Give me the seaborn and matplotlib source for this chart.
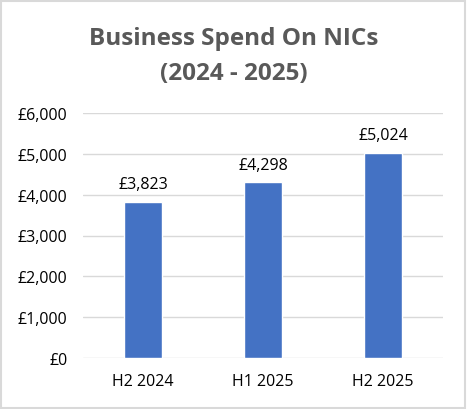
import matplotlib
matplotlib.use("Agg")
import matplotlib.pyplot as plt
import seaborn as sns
import pandas as pd
from matplotlib.patches import Rectangle

# Chart data
periods = ["H2 2024", "H1 2025", "H2 2025"]
spend = [3823, 4298, 5024]
y_ticks = [0, 1000, 2000, 3000, 4000, 5000, 6000]
title_lines = ["Business Spend On NICs", "(2024 - 2025)"]

df = pd.DataFrame({"period": periods, "spend": spend})

sns.set_style("white")
plt.rcParams["font.family"] = ["Open Sans", "DejaVu Sans"]

fig = plt.figure(figsize=(4.68, 4.10), dpi=100)
ax = fig.add_axes([83 / 468, 1 - 359 / 410, 360 / 468, 245 / 410])

sns.barplot(data=df, x="period", y="spend", color="#4472C4", width=0.32,
            saturation=1, ax=ax)

ax.set_ylim(0, 6000)
ax.set_yticks(y_ticks)
ax.set_yticklabels([f"£{v:,}" for v in y_ticks], fontsize=11.5, color="#000000")
ax.tick_params(axis="x", labelsize=11.5, colors="#000000", pad=11, length=0)
ax.tick_params(axis="y", pad=11, length=0)
ax.set_xlabel("")
ax.set_ylabel("")
ax.grid(axis="y", color="#D9D9D9", linewidth=1)
ax.set_axisbelow(True)
for s in ax.spines.values():
    s.set_visible(False)

for i, v in enumerate(spend):
    ax.annotate(f"£{v:,}", (i, v), xytext=(0, 7), textcoords="offset points",
                ha="center", va="bottom", fontsize=11.5, color="#000000")

# two-line title
for line, base in zip(title_lines, [45, 80]):
    fig.text(0.5, 1 - base / 410, line, ha="center", va="baseline",
             fontsize=17.5, fontweight="bold", color="#595959")

# outer chart border
fig.patches.append(Rectangle((1 / 468, 1 / 410), 464 / 468, 407 / 410,
                             transform=fig.transFigure, fill=False,
                             edgecolor="#D9D9D9", linewidth=1.5))

fig.savefig("out.png", dpi=100)
